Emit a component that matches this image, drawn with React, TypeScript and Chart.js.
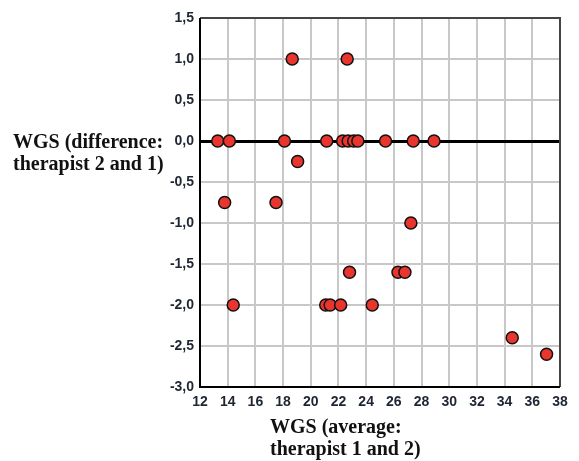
import React, { useEffect, useRef } from "react";
import { Chart, registerables } from "chart.js";

Chart.register(...registerables);

// y = 0
const avgZero = [13.28, 14.12, 18.1, 21.15, 22.3, 22.7, 23.1, 23.4, 25.4, 27.4, 28.9];
const diffZero = [0, 0, 0, 0, 0, 0, 0, 0, 0, 0, 0];
// other points
const avgOther = [18.66, 22.63, 19.05, 13.78, 17.49, 27.23, 22.8, 26.3, 26.8, 14.4, 21.08, 21.4, 22.16, 24.44, 34.55, 37.03];
const diffOther = [1.0, 1.0, -0.25, -0.75, -0.75, -1.0, -1.6, -1.6, -1.6, -2.0, -2.0, -2.0, -2.0, -2.0, -2.4, -2.6];

const xTitle = ["WGS (average:", "therapist 1 and 2)"];
const yTitle = ["WGS (difference:", "therapist 2 and 1)"];

const fmt = (v: number) => v.toFixed(1).replace(".", ",");

export default function App() {
  const ref = useRef<HTMLCanvasElement>(null);
  useEffect(() => {
    if (!ref.current) return;
    const pts = [
      ...avgZero.map((x, i) => ({ x, y: diffZero[i] })),
      ...avgOther.map((x, i) => ({ x, y: diffOther[i] })),
    ];
    const framePlugin = {
      id: "frame",
      afterDatasetsDraw(chart: any) {
        const { ctx, chartArea: a } = chart;
        ctx.save();
        ctx.lineWidth = 2;
        ctx.strokeStyle = "#444";
        ctx.beginPath();
        ctx.moveTo(a.left, a.top);
        ctx.lineTo(a.right, a.top);
        ctx.lineTo(a.right, a.bottom);
        ctx.stroke();
        ctx.strokeStyle = "#000";
        ctx.beginPath();
        ctx.moveTo(a.left, a.top);
        ctx.lineTo(a.left, a.bottom);
        ctx.lineTo(a.right, a.bottom);
        ctx.stroke();
        ctx.restore();
      },
      afterDraw(chart: any) {
        const { ctx } = chart;
        ctx.save();
        ctx.font = 'bold 20px "Liberation Serif"';
        ctx.fillStyle = "#111";
        ctx.textAlign = "left";
        ctx.textBaseline = "alphabetic";
        ctx.fillText(yTitle[0], 13, 148);
        ctx.fillText(yTitle[1], 13, 170);
        ctx.fillText(xTitle[0], 270, 433);
        ctx.fillText(xTitle[1], 270, 455);
        ctx.restore();
      },
    };
    const chart = new Chart(ref.current, {
      type: "scatter",
      data: {
        datasets: [
          {
            data: pts,
            backgroundColor: "#e8352e",
            borderColor: "#111",
            borderWidth: 1.5,
            pointRadius: 6,
          },
        ],
      },
      options: {
        animation: false,
        responsive: true,
        maintainAspectRatio: false,
        layout: { padding: { left: 0, top: 18, right: 19, bottom: 0 } },
        plugins: { legend: { display: false }, tooltip: { enabled: false } },
        scales: {
          x: {
            type: "linear",
            min: 12,
            max: 38,
            afterFit: (s: any) => {
              s.height = 74;
            },
            ticks: {
              stepSize: 2,
              padding: 7,
              color: "#1e2633",
              font: { family: "Liberation Sans", size: 14, weight: "bold" },
              callback: (v: any) => String(v),
            },
            grid: { color: "#c8c8c8", lineWidth: 2, tickLength: 0 },
            border: { display: false },
          },
          y: {
            type: "linear",
            min: -3,
            max: 1.5,
            afterFit: (s: any) => {
              s.width = 200;
            },
            ticks: {
              stepSize: 0.5,
              padding: 6,
              color: "#1e2633",
              font: { family: "Liberation Sans", size: 14, weight: "bold" },
              callback: (v: any) => fmt(Number(v)),
            },
            grid: {
              color: (c: any) => (c.tick && c.tick.value === 0 ? "#000" : "#c8c8c8"),
              lineWidth: (c: any) => (c.tick && c.tick.value === 0 ? 3 : 2),
              tickLength: 0,
            },
            border: { display: false },
          },
        },
      },
      plugins: [framePlugin],
    });
    return () => chart.destroy();
  }, []);
  return (
    <div style={{ position: "absolute", left: 0, top: 0, width: 579, height: 461, background: "#fff" }}>
      <canvas ref={ref} />
    </div>
  );
}
